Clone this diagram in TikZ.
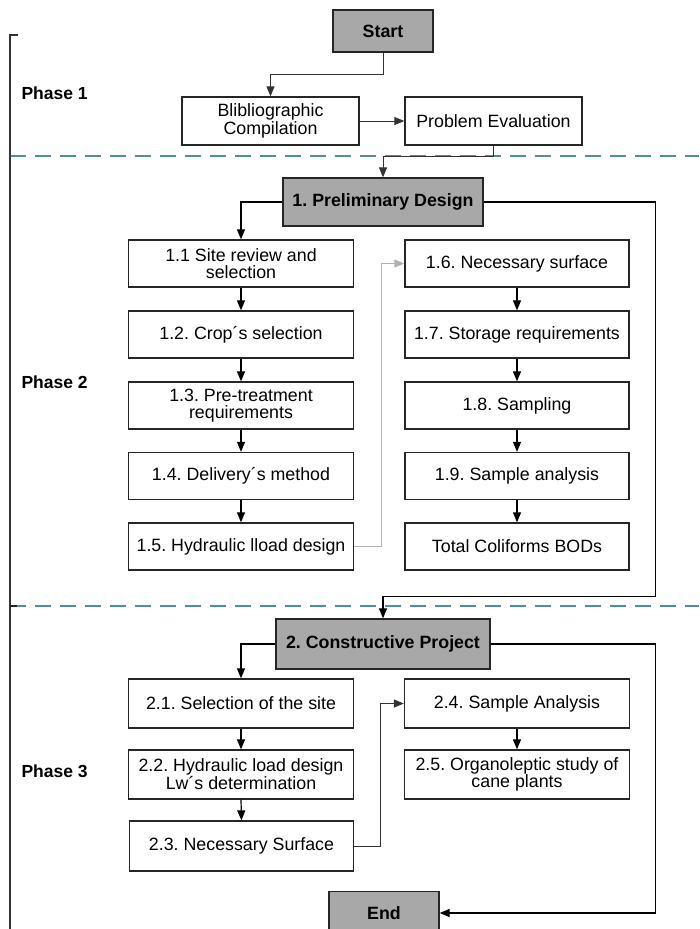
\documentclass[tikz,border=0pt]{standalone}
\usepackage{fontspec}
\setmainfont{Liberation Sans}
\usetikzlibrary{arrows.meta}
\definecolor{boxgray}{HTML}{A8A8A8}
\definecolor{dashblue}{HTML}{4A8FA6}
\frenchspacing
\begin{document}
\begin{tikzpicture}[x=1pt,y=-1pt,
  every node/.style={font=\fontsize{17.8}{16.5}\selectfont},
  box/.style={draw=black!85,line width=1.3pt,fill=white,align=center,inner sep=2pt,minimum width=#1},
  box/.default=225pt,
  gbox/.style={box=#1,fill=boxgray,font=\fontsize{17.8}{16.5}\selectfont\bfseries},
  arr/.style={-{Triangle[length=10pt,width=8pt]},line width=1.2pt,black},
  thinarr/.style={-{Triangle[length=10pt,width=8pt]},line width=0.9pt,black!80},
  grayarr/.style={-{Triangle[length=10pt,width=8pt]},line width=0.9pt,black!30},
  phase/.style={anchor=west,font=\fontsize{17.5}{16.5}\selectfont\bfseries},
  sep/.style={dashblue,line width=1.4pt,dash pattern=on 16pt off 9pt}
]
\useasboundingbox (0,0) rectangle (699,929);

% separators and bracket
\draw[sep] (10,156) -- (699,156);
\draw[sep] (10,606) -- (699,606);
\draw[line width=1.2pt,black!80] (18,35) -- (10,35) -- (10,935);
\draw[line width=1.6pt,black!85] (10,606) -- (17,606);

% phase labels
\node[phase] (p1) at (18,93) {Phase 1};
\node[phase] (p2) at (18,382) {Phase 2};
\node[phase] (p3) at (18,771) {Phase 3};

% phase 1
\node[gbox=100pt,minimum height=42pt] (start) at (383,31) {Start};
\node[box=177pt,minimum height=48pt] (bib) at (270.5,121) {Blibliographic\\Compilation};
\node[box=177pt,minimum height=48pt] (prob) at (493.5,121) {Problem Evaluation};

% phase 2
\node[gbox=200pt,minimum height=48pt] (prelim) at (383,202) {1. Preliminary Design};
\node[box=225pt,minimum height=47pt] (n11) at (241,263.5) {1.1 Site review and\\selection};
\node[box=225pt,minimum height=47pt] (n12) at (241,334.5) {1.2. Crop´s selection};
\node[box=225pt,minimum height=47pt] (n13) at (241,405.5) {1.3. Pre-treatment\\requirements};
\node[box=225pt,minimum height=47pt] (n14) at (241,476) {1.4. Delivery´s method};
\node[box=225pt,minimum height=47pt] (n15) at (241,546.5) {1.5. Hydraulic lload design};
\node[box=224pt,minimum height=47pt] (n16) at (517,263.5) {1.6. Necessary surface};
\node[box=224pt,minimum height=47pt] (n17) at (517,334.5) {1.7. Storage requirements};
\node[box=224pt,minimum height=47pt] (n18) at (517,405.5) {1.8. Sampling};
\node[box=224pt,minimum height=47pt] (n19) at (517,476) {1.9. Sample analysis};
\node[box=224pt,minimum height=47pt] (tc) at (517,546.5) {Total Coliforms BODs};

% phase 3
\node[gbox=214pt,minimum height=50pt] (cons) at (383,644) {2. Constructive Project};
\node[box=225pt,minimum height=49pt] (n21) at (241,703.5) {2.1. Selection of the site};
\node[box=225pt,minimum height=49pt] (n22) at (241,774.5) {2.2. Hydraulic load design\\Lw´s determination};
\node[box=224pt,minimum height=50pt] (n23) at (241.5,846) {2.3. Necessary Surface};
\node[box=225pt,minimum height=49pt] (n24) at (517,703.5) {2.4. Sample Analysis};
\node[box=225pt,minimum height=49pt] (n25) at (517,774.5) {2.5. Organoleptic study of\\cane plants};
\node[gbox=110pt,minimum height=43pt] (end) at (384,913) {End};

% connectors phase 1
\draw[thinarr] (start.south) -- ++(0,22) -| (bib.north);
\draw[thinarr] (bib.east) -- (prob.west);
\draw[thinarr] (prob.south) -- ++(0,11) -| (prelim.north);

% connectors phase 2
\draw[arr] (prelim.west) -| (n11.north);
\draw[arr] (n11.south) -- (n12.north);
\draw[arr] (n12.south) -- (n13.north);
\draw[arr] (n13.south) -- (n14.north);
\draw[arr] (n14.south) -- (n15.north);
\draw[arr] (n16.south) -- (n17.north);
\draw[arr] (n17.south) -- (n18.north);
\draw[arr] (n18.south) -- (n19.north);
\draw[arr] (n19.south) -- (tc.north);
\draw[grayarr] (n15.east) -- ++(27,0) |- (n16.west);
\draw[arr] (prelim.east) -- ++(172,0) |- ([yshift=22pt]cons.north) -- (cons.north);

% connectors phase 3
\draw[arr] (cons.west) -| (n21.north);
\draw[arr] (n21.south) -- (n22.north);
\draw[arr] (n22.south) -- (n23.north);
\draw[arr] (n24.south) -- (n25.north);
\draw[thinarr] (n23.east) -- ++(26,0) |- (n24.west);
\draw[arr] (cons.east) -- ++(165,0) |- (end.east);
\end{tikzpicture}
\end{document}
